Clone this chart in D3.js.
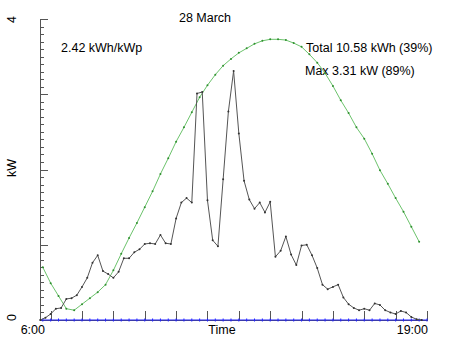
<!DOCTYPE html>
<html>
<head>
    <script src="https://d3js.org/d3.v7.min.js"></script>
    <style>
        body { margin: 0; background: #fff; }
        svg { font-family: "Liberation Sans", Arial, sans-serif; font-size: 12.5px; }
        .axis path, .axis line { stroke: #555; shape-rendering: crispEdges; }
        .line-actual { fill: none; stroke: #555; stroke-width: 1; }
        .line-clear { fill: none; stroke: #6cc36c; stroke-width: 1; }
        .line-clip { fill: none; stroke: #2222ff; stroke-width: 1; }
        .dot-actual { fill: #333; }
        .dot-clear { fill: #2f8f2f; }
        .mark-clip { stroke: #2222ff; stroke-width: 1; }
    </style>
</head>
<body>
    <svg width="452" height="339"></svg>
    <script>
        // measured power, one value every 10 minutes from 6:40
        const actualStart = 6 + 40 / 60;
        const actualStep = 10 / 60;
        const actual = [
            0.00, 0.03, 0.08, 0.15, 0.16, 0.28, 0.29, 0.33, 0.44, 0.56,
            0.76, 0.86, 0.65, 0.61, 0.56, 0.64, 0.82, 0.82, 0.90, 0.94,
            1.01, 1.02, 1.01, 1.13, 1.02, 1.01, 1.35, 1.56, 1.62, 1.56,
            3.01, 3.03, 1.59, 1.06, 0.98, 1.87, 2.77, 3.31, 2.48, 1.85,
            1.60, 1.48, 1.56, 1.43, 1.57, 0.84, 0.92, 1.11, 0.87, 0.73,
            0.99, 1.00, 0.86, 0.69, 0.47, 0.41, 0.44, 0.47, 0.30, 0.21,
            0.16, 0.13, 0.15, 0.13, 0.22, 0.20, 0.13, 0.10, 0.08, 0.12,
            0.10, 0.04, 0.01, 0.00
        ];

        // clear sky estimate, every 15 minutes from 6:45
        const clearStart = 6.75;
        const clearStep = 0.25;
        const clearSky = [
            0.70, 0.49, 0.32, 0.15, 0.13, 0.21, 0.29, 0.37, 0.47, 0.66,
            0.88, 1.09, 1.29, 1.50, 1.71, 1.94, 2.15, 2.37, 2.56, 2.76,
            2.96, 3.12, 3.26, 3.38, 3.47, 3.55, 3.61, 3.67, 3.71, 3.73,
            3.73, 3.72, 3.68, 3.63, 3.53, 3.42, 3.28, 3.11, 2.92, 2.75,
            2.56, 2.41, 2.21, 1.99, 1.81, 1.62, 1.44, 1.24, 1.04
        ];

        // clipped / lost power, every 15 minutes from 6:45
        const clipped = [
            0, 0, 0, 0, 0, 0, 0, 0, 0, 0,
            0, 0, 0, 0, 0, 0, 0, 0, 0, 0,
            0, 0, 0, 0, 0, 0, 0, 0, 0, 0,
            0, 0, 0, 0, 0, 0, 0, 0, 0, 0,
            0, 0, 0, 0, 0, 0, 0, 0, 0, 0
        ];

        const hourTicks = [7, 8, 9, 10, 11, 12, 13, 14, 15, 16, 17, 18, 19];
        const kwTicks = [0, 1, 2, 3, 4];
        const kwLabels = {0: '0', 4: '4'};
        const xLabels = ['6:00', '19:00'];

        const title = '28 March';
        const yieldText = '2.42 kWh/kWp';
        const totalText = 'Total 10.58 kWh (39%)';
        const maxText = 'Max 3.31 kW (89%)';

        const svg = d3.select('svg');
        const plotLeft = 40, plotRight = 427, plotTop = 19, plotBottom = 320;

        const x = d3.scaleLinear().domain([6.66, 19]).range([plotLeft, plotRight]);
        const y = d3.scaleLinear().domain([0, 4]).range([plotBottom, plotTop]);

        const actualData = actual.map((v, i) => ({t: actualStart + i * actualStep, v: v}));
        const clearData = clearSky.map((v, i) => ({t: clearStart + i * clearStep, v: v}));
        const clipData = clipped.map((v, i) => ({t: clearStart + i * clearStep, v: v}));

        // y axis: minor ticks every 0.1 kW, major every 1 kW
        svg.append('g')
            .attr('class', 'axis')
            .attr('transform', `translate(${plotLeft},0)`)
            .call(d3.axisLeft(y).ticks(40).tickSizeInner(-4).tickSizeOuter(0).tickFormat(''));

        const yAxis = svg.append('g')
            .attr('class', 'axis')
            .attr('transform', `translate(${plotLeft},0)`)
            .call(d3.axisLeft(y).tickValues(kwTicks).tickSizeInner(-8).tickSizeOuter(0)
                .tickFormat(d => kwLabels[d] || ''));
        yAxis.selectAll('text')
            .attr('x', 0).attr('dy', 0).attr('y', 0)
            .attr('text-anchor', 'middle')
            .attr('font-size', 12.5)
            .attr('fill', '#000')
            .attr('dominant-baseline', 'central')
            .attr('transform', d => `translate(-28,${d === 0 ? -3 : 0}) rotate(-90)`);

        // x axis
        svg.append('g')
            .attr('class', 'axis')
            .attr('transform', `translate(0,${plotBottom})`)
            .call(d3.axisBottom(x).tickValues(hourTicks).tickSizeInner(-9).tickSizeOuter(0).tickFormat(''));

        svg.append('text')
            .attr('x', x.range()[0] + 5).attr('y', 334)
            .attr('text-anchor', 'end')
            .text(xLabels[0]);
        svg.append('text')
            .attr('x', x(19) + 1).attr('y', 334)
            .attr('text-anchor', 'end')
            .text(xLabels[1]);
        svg.append('text')
            .attr('x', 222).attr('y', 334)
            .attr('text-anchor', 'middle')
            .text('Time');
        svg.append('text')
            .attr('transform', 'translate(16,168) rotate(-90)')
            .attr('text-anchor', 'middle')
            .text('kW');

        // texts
        svg.append('text').attr('x', 205).attr('y', 22).attr('text-anchor', 'middle').text(title);
        svg.append('text').attr('x', 61).attr('y', 52).text(yieldText);
        svg.append('text').attr('x', 306).attr('y', 52).text(totalText);
        svg.append('text').attr('x', 305).attr('y', 75).text(maxText);

        const line = d3.line().x(d => x(d.t)).y(d => y(d.v));

        svg.append('path').datum(clipData).attr('class', 'line-clip')
            .attr('d', d => `M${plotLeft},${y(0)}` + line(d).replace(/^M/, 'L'));
        svg.selectAll('.mark-clip')
            .data(clipData)
            .enter()
            .append('line')
            .attr('class', 'mark-clip')
            .attr('x1', d => x(d.t)).attr('x2', d => x(d.t))
            .attr('y1', d => y(d.v) - 1.5).attr('y2', d => y(d.v) + 1.5);

        svg.append('path').datum(clearData).attr('class', 'line-clear').attr('d', line);
        svg.selectAll('.dot-clear')
            .data(clearData)
            .enter()
            .append('circle')
            .attr('class', 'dot-clear')
            .attr('cx', d => x(d.t))
            .attr('cy', d => y(d.v))
            .attr('r', 1);

        svg.append('path').datum(actualData).attr('class', 'line-actual').attr('d', line);
        svg.selectAll('.dot-actual')
            .data(actualData)
            .enter()
            .append('circle')
            .attr('class', 'dot-actual')
            .attr('cx', d => x(d.t))
            .attr('cy', d => y(d.v))
            .attr('r', 1);
    </script>
</body>
</html>
